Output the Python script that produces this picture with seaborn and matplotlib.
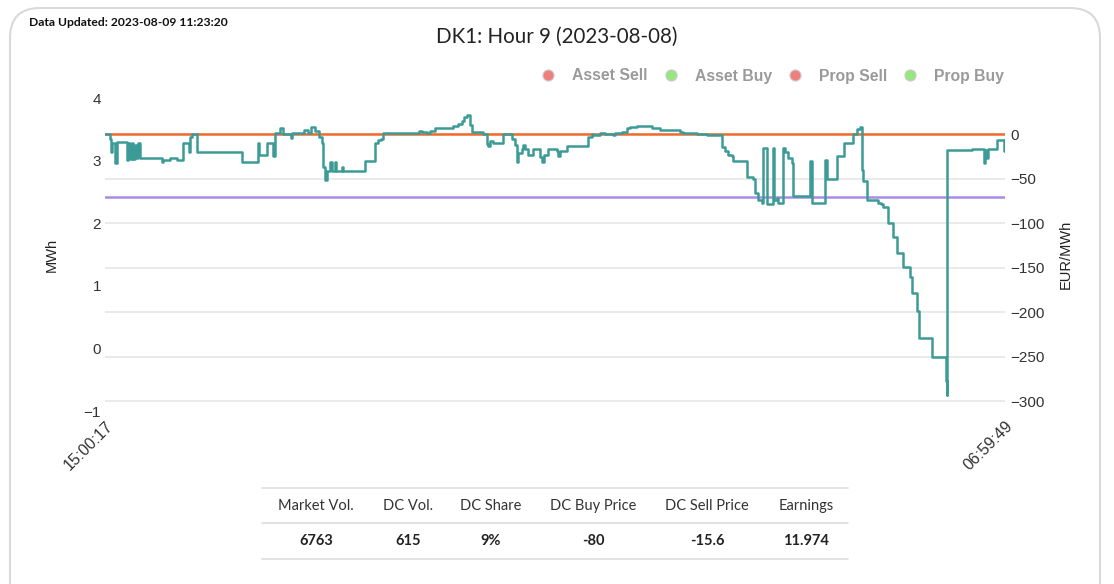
import pandas as pd
import seaborn as sns
import matplotlib.pyplot as plt
from matplotlib.lines import Line2D
from matplotlib.patches import FancyBboxPatch

# Time window and price trace
start_time = "2023-08-07 15:00:17"
end_time = "2023-08-08 06:59:49"
xtick_labels = ["15:00:17", "06:59:49"]

# minutes after start, price in EUR/MWh (step changes)
minutes = [
    0.0, 5.3, 6.4, 7.1, 10.7, 12.5, 23.8, 24.8, 26.7, 28.5, 30.2, 32.0, 33.8, 35.5,
    37.3, 60.5, 62.2, 69.3, 76.4, 83.5, 89.6, 90.6, 92.4, 97.8, 145.7, 162.8, 164.5,
    172.4, 179.4, 181.2, 186.6, 190.1, 198.3, 199.7, 212.5, 216.7, 219.6, 223.9,
    228.2, 231.0, 232.7, 234.6, 236.4, 239.9, 241.7, 245.2, 246.3, 252.4, 254.1,
    277.2, 287.9, 291.4, 293.9, 296.7, 335.1, 337.6, 343.0, 346.5, 351.8, 371.3,
    376.7, 380.3, 382.7, 385.6, 389.1, 391.0, 403.3, 406.9, 408.7, 410.5, 414.0,
    424.0, 433.6, 437.1, 438.9, 440.6, 444.3, 446.0, 447.8, 451.3, 456.0, 463.8,
    465.6, 468.0, 472.6, 481.6, 483.3, 485.1, 492.2, 515.3, 518.9, 520.6, 527.7,
    533.1, 541.9, 543.7, 550.9, 556.2, 559.7, 566.9, 582.9, 591.7, 613.0, 616.6,
    630.8, 641.5, 657.5, 661.0, 664.5, 668.2, 669.9, 684.2, 691.2, 693.0, 696.5,
    700.1, 701.8, 705.5, 711.9, 713.3, 716.1, 717.8, 722.5, 725.0, 728.5, 732.1,
    733.8, 751.6, 753.4, 767.6, 769.4, 780.7, 787.9, 797.8, 801.4, 804.9, 806.7,
    808.4, 812.7, 824.4, 827.3, 829.8, 835.1, 840.4, 844.1, 851.1, 858.3, 860.1,
    865.4, 868.2, 881.4, 896.6, 897.4, 898.0, 924.0, 937.1, 938.2, 940.0, 941.1,
    950.7, 958.5, 959.5,
]
price = [
    0, -5, -20, -10, -32, -9, -29, -10, -28, -10, -28, -12, -27, -10,
    -27, -31, -29, -27, -29, -10, -20, -3, 0, -20, -31, -10, -23,
    -10, -25, 1, 6.5, 0, -4, 1, 5, 1, 8, 3,
    -3, -10, -37, -52, -42, -31, -42, -31, -42, -37, -42,
    -30, -10, -7, -5, 1, 4, 2, 1, 3, 6.5, 9,
    11, 14.6, 19.5, 21, 10, 2, 0, -11, -13, -8, -10,
    0, -5, -12, -31, -21, -17, -12, -17, -23, -17, -26,
    -31, -23, -17, -19, -25, -19, -13, -3, 0, -1, 1,
    0, -1, 1, 2, 6.5, 8, 9.5, 7, 5, 2, 1,
    0, -1, -14, -19, -23, -25, -30, -48, -50, -66, -74,
    -77, -16, -78, -16, -74, -72, -77, -16, -20, -27, -32,
    -70, -30, -77, -29, -50, -25, -10, 0, 6, 8, -40,
    -53, -74, -77, -79, -82, -100, -115, -134, -149, -160, -179,
    -199, -229, -250, -277, -293, -18, -17, -32, -18, -27, -17,
    -7, -19, -7,
]
sell_price_line = 0
buy_price_line = -71

legend_labels = ["Asset Sell", "Asset Buy", "Prop Sell", "Prop Buy"]
legend_colors = ["#ef7f7f", "#98e67f", "#ef7f7f", "#98e67f"]

table_headers = ["Market Vol.", "DC Vol.", "DC Share", "DC Buy Price", "DC Sell Price", "Earnings"]
table_values = ["6763", "615", "9%", "-80", "-15.6", "11.974"]

df = pd.DataFrame({"minutes": minutes, "price": price})
span = (pd.Timestamp(end_time) - pd.Timestamp(start_time)).total_seconds() / 60

sns.set_theme(style="white")
plt.rcParams["font.family"] = ["Liberation Sans", "DejaVu Sans"]

fig = plt.figure(figsize=(11.14, 5.84), dpi=100)
fig.add_artist(FancyBboxPatch((0.1, -0.5), 10.9, 6.26,
                              boxstyle="round,pad=0,rounding_size=0.3",
                              transform=fig.dpi_scale_trans, zorder=-5,
                              facecolor="none", edgecolor="#d9d9d9", lw=1.5))

ax = fig.add_axes([0.0943, 0.296, 0.808, 0.536])
ax2 = ax.twinx()
ax.set_facecolor("none")
ax2.set_facecolor("none")

# left axis (MWh)
ax.set_ylim(-1, 4)
ax.set_yticks(range(-1, 5))
ax.set_ylabel("MWh", fontsize=10.5, color="#222222", labelpad=18)
ax.tick_params(axis="y", length=0, pad=3, labelsize=11, labelcolor="#333333")

# right axis (EUR/MWh)
ax2.set_ylim(-311.1, 40.4)
ax2.set_yticks(range(-300, 1, 50))
ax2.grid(axis="y", color="#e6e6e6", lw=1.2)
ax2.set_axisbelow(True)
ax2.tick_params(axis="y", length=0, pad=4, labelsize=11, labelcolor="#333333")

ax2.axhline(sell_price_line, color="#f06a2c", lw=1.8, zorder=3)
ax2.axhline(buy_price_line, color="#a88ce6", lw=1.8, zorder=3)
sns.lineplot(data=df, x="minutes", y="price", ax=ax2, color="#3d9b97",
             lw=1.8, drawstyle="steps-post", zorder=4)
ax2.set_xlabel("")
ax2.set_ylabel("EUR/MWh", fontsize=10.5, color="#222222", labelpad=10)

ax.set_xlim(0, span)
ax.set_xticks([0, span])
ax.set_xticklabels(xtick_labels, rotation=45, ha="right", va="top",
                   rotation_mode="anchor", fontsize=11.5, color="#333333")
ax.tick_params(axis="x", length=0, pad=5)
ax.set_xlabel("")

for a in (ax, ax2):
    for s in a.spines.values():
        s.set_visible(False)

fig.text(557 / 1114, 1 - 37 / 584, "DK1: Hour 9 (2023-08-08)", ha="center", va="center",
         fontsize=14.8, color="#222222", family=["Lato", "DejaVu Sans"])
fig.text(29 / 1114, 1 - 22 / 584, "Data Updated: 2023-08-09 11:23:20", ha="left", va="center",
         fontsize=8.7, fontweight="bold", color="#111111", family=["Lato", "DejaVu Sans"])

handles = [Line2D([], [], ls="", marker="o", markersize=8, markerfacecolor=c,
                  markeredgecolor="#cccccc", markeredgewidth=0.8) for c in legend_colors]
leg = fig.legend(handles, legend_labels, ncol=4, frameon=False,
                 loc="center right", bbox_to_anchor=(1004 / 1114, 1 - 76 / 584),
                 handlelength=1.0, handletextpad=1.05, columnspacing=0.94,
                 borderaxespad=0, borderpad=0,
                 prop={"size": 11.3, "weight": "bold", "family": "Liberation Sans"})
for t in leg.get_texts():
    t.set_color("#9a9a9a")

# summary table under the chart
x0, x1 = 262 / 1114, 848 / 1114
for yp in (488, 523, 559):
    fig.add_artist(Line2D([x0, x1], [1 - yp / 584] * 2, color="#dddddd", lw=1.2,
                          transform=fig.transFigure))
col_x = [316, 408, 491, 593, 707, 806]
for cx, h, v in zip(col_x, table_headers, table_values):
    fig.text(cx / 1114, 1 - 506 / 584, h, ha="center", va="center", fontsize=10.5,
             color="#333333", family=["Lato", "DejaVu Sans"])
    fig.text(cx / 1114, 1 - 541 / 584, v, ha="center", va="center", fontsize=10.5,
             fontweight="bold", color="#222222", family=["Lato", "DejaVu Sans"])

fig.savefig("out.png", dpi=100)
